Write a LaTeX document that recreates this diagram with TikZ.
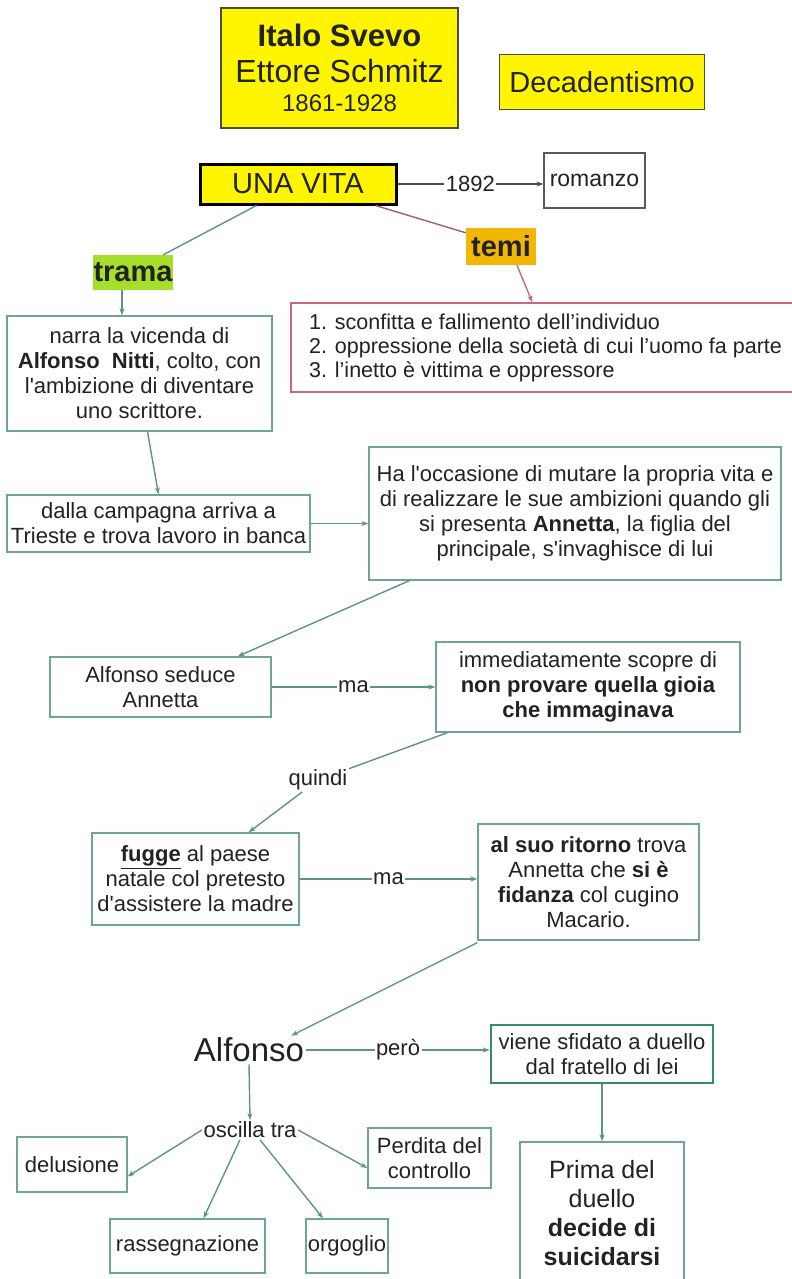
\documentclass[tikz,border=0pt]{standalone}
\usepackage{fontspec}
\setmainfont{Liberation Sans}[Ligatures=TeXOff]
\usetikzlibrary{arrows.meta, positioning, calc}
\definecolor{mapyellow}{HTML}{FFF500}
\definecolor{tramalime}{HTML}{A6DE2C}
\definecolor{temigold}{HTML}{F2B705}
\definecolor{boxteal}{HTML}{6FA596}
\definecolor{linkgreen}{HTML}{5E9484}
\definecolor{duelgreen}{HTML}{3A8C62}
\definecolor{temirose}{HTML}{C46A78}
\definecolor{temilink}{HTML}{A0606A}
\definecolor{titleolive}{HTML}{4E4E36}
\definecolor{inkgray}{HTML}{222222}
\newcommand{\bodysize}{\fontsize{22}{25}\selectfont}

\begin{document}
\begin{tikzpicture}[
    x=1pt, y=-1pt,
    >={Stealth[length=7pt, width=5pt]},
    box/.style={draw=boxteal, fill=white, line width=1.3pt, align=center,
                inner sep=0pt, font=\bodysize, text=inkgray},
    yellowbox/.style={draw=titleolive, fill=mapyellow, line width=1.5pt, align=center,
                      inner sep=0pt, text=inkgray},
    headtag/.style={inner sep=0pt, font=\fontsize{29}{32}\selectfont\bfseries, text=inkgray},
    lbl/.style={fill=white, inner sep=1.5pt, font=\bodysize, text=inkgray},
    arr/.style={->, line width=1.4pt, draw=linkgreen},
    lnk/.style={line width=1.4pt, draw=linkgreen},
]
\fill[white] (0,0) rectangle (792,1279);
\useasboundingbox (0,0) rectangle (792,1279);

% Autore e corrente
\node[yellowbox, minimum width=237, minimum height=120, font=\fontsize{32}{36}\selectfont] (autore) at (339.5,68)
    {{\fontsize{31}{36}\selectfont\textbf{Italo Svevo}}\\Ettore Schmitz\\[-7pt]{\fontsize{24}{29}\selectfont 1861-1928}};
\node[yellowbox, minimum width=205, minimum height=55, font=\fontsize{29}{32}\selectfont] (deca) at (602,82) {Decadentismo};

% Romanzo
\node[yellowbox, draw=black, line width=3pt, minimum width=196, minimum height=40, font=\fontsize{29}{32}\selectfont] (unavita) at (298,184) {UNA VITA};
\node[box, draw=black!65, line width=1.2pt, minimum width=101, minimum height=55, font=\fontsize{23}{26}\selectfont] (romanzo) at (594.5,180.5) {romanzo};

% Trama e temi
\node[headtag, fill=tramalime, minimum width=80, minimum height=35] (trama) at (133,272.5) {trama};
\node[headtag, fill=temigold, minimum width=70, minimum height=37] (temi) at (501,246.5) {temi};
\node[box, draw=temirose, align=left, minimum width=509, minimum height=89, font=\fontsize{21.5}{24}\selectfont] (temibox) at (545.5,347.5)
    {1. sconfitta e fallimento dell’individuo\\2. oppressione della società di cui l’uomo fa parte\\3. l’inetto è vittima e oppressore};

% Vicenda
\node[box, minimum width=265, minimum height=115] (narra) at (139.5,373.5)
    {narra la vicenda di\\\textbf{Alfonso\ \ Nitti}, colto, con\\l'ambizione di diventare\\uno scrittore.};
\node[box, minimum width=303, minimum height=57] (dalla) at (158.5,523.5)
    {dalla campagna arriva a\\Trieste e trova lavoro in banca};
\node[box, minimum width=412, minimum height=133] (occasione) at (575,513.5)
    {Ha l'occasione di mutare la propria vita e\\di realizzare le sue ambizioni quando gli\\si presenta \textbf{Annetta}, la figlia del\\principale, s'invaghisce di lui};
\node[box, minimum width=221, minimum height=60] (seduce) at (160.5,687) {Alfonso seduce\\Annetta};
\node[box, minimum width=304, minimum height=90] (gioia) at (588,687)
    {immediatamente scopre di\\\textbf{non\ provare\ quella\ gioia}\\\textbf{che\ immaginava}};
\node[lbl, fill=none] (quindi) at (318,780) {quindi};
\node[box, minimum width=207, minimum height=92] (fugge) at (195.5,879)
    {\underline{\textbf{fugge}} al paese\\natale col pretesto\\d'assistere la madre};
\node[box, minimum width=221, minimum height=116] (ritorno) at (588.5,882)
    {\textbf{al suo ritorno} trova\\Annetta che \textbf{si è}\\\textbf{fidanza} col cugino\\Macario.};

% Alfonso
\node[inner sep=2pt, font=\fontsize{33}{36}\selectfont, text=inkgray] (alfonso) at (249,1050) {Alfonso};
\node[box, draw=duelgreen, line width=2.4pt, minimum width=222, minimum height=58] (duello) at (602,1054)
    {viene sfidato a duello\\dal fratello di lei};
\node[box, minimum width=164, minimum height=142, font=\fontsize{25}{29}\selectfont] (prima) at (602,1213)
    {Prima del\\duello\\\textbf{decide di}\\\textbf{suicidarsi}};
\node[lbl, fill=none] (oscilla) at (250,1130) {oscilla tra};
\node[box, minimum width=110, minimum height=55] (delusione) at (72,1164.5) {delusione};
\node[box, minimum width=123, minimum height=60] (perdita) at (429.5,1158) {Perdita del\\controllo};
\node[box, minimum width=155, minimum height=54] (rassegna) at (187.5,1246) {rassegnazione};
\node[box, minimum width=82, minimum height=54] (orgoglio) at (347,1246) {orgoglio};

% Collegamenti in alto
\draw[arr, draw=black!70] (unavita.east) -- node[lbl] {1892} (unavita.east -| romanzo.west);
\draw[lnk] ([xshift=58]unavita.south west) -- ([xshift=-10]trama.north east);
\draw[lnk, draw=temilink] ([xshift=-22]unavita.south east) -- ([yshift=-5]temi.north west);
\draw[arr, draw=temirose] ([xshift=16]temi.south) -- ([xshift=242]temibox.north west);
\draw[arr] ([xshift=-11]trama.south) -- ([xshift=-11]trama.south |- narra.north);

% Catena della trama
\draw[arr] ([xshift=8]narra.south) -- (dalla.north);
\draw[arr] (dalla.east) -- (dalla.east -| occasione.west);
\draw[arr] ([xshift=41]occasione.south west) -- ([xshift=-34]seduce.north east);
\draw[arr] (seduce) -- node[lbl] {ma} (gioia);
\draw[lnk] ([xshift=12]gioia.south west) -- (quindi);
\draw[arr] (quindi) -- ([xshift=-51]fugge.north east);
\draw[arr] (fugge.east) -- node[lbl] {ma} (fugge.east -| ritorno.west);
\draw[arr] ([yshift=-2]ritorno.south west) -- ([xshift=-15]alfonso.north east);

% Alfonso e il duello
\draw[arr] (alfonso.east) -- node[lbl] {però} (alfonso.east -| duello.west);
\draw[arr] (duello) -- (prima);
\draw[arr] (alfonso.south) -- (oscilla.north);
\draw[arr] (oscilla.west) -- ([yshift=-12]delusione.east);
\draw[arr] (oscilla.east) -- ([yshift=-10]perdita.west);
\draw[arr] ([xshift=-10]oscilla.south) -- ([xshift=16]rassegna.north);
\draw[arr] ([xshift=10]oscilla.south) -- ([xshift=-24]orgoglio.north);

\end{tikzpicture}
\end{document}
